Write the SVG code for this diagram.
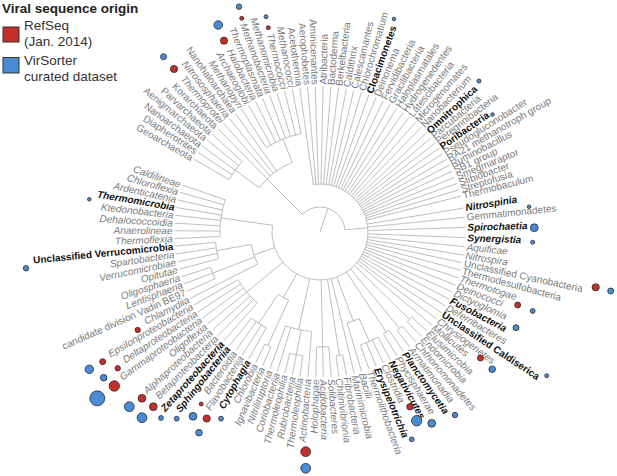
<svg xmlns="http://www.w3.org/2000/svg" width="617" height="476" viewBox="0 0 617 476">
<style>
.br path,.br circle{fill:none;stroke:#b3b3b3;stroke-width:0.8}
.lb text{font-family:"Liberation Sans",Arial,sans-serif;font-size:10px;fill:#7a7a7a;dominant-baseline:central;font-style:italic}
.lb text.u{font-style:normal}
.lb text.b{font-weight:bold;fill:#111}
.lb text.e{text-anchor:end}
.r{fill:#c42f2a;stroke:#2a2a2a;stroke-width:0.8}
.bl{fill:#4a8bd6;stroke:#2a2a2a;stroke-width:0.8}
.lg{font-family:"Liberation Sans",Arial,sans-serif;font-size:13.5px;fill:#333}
</style>
<rect width="617" height="476" fill="#fff"/>
<g id="legend">
<text x="2" y="12.5" class="lg" style="font-weight:bold;fill:#222">Viral sequence origin</text>
<rect x="3" y="27" width="16" height="15" fill="#c42f2a" stroke="#333" stroke-width="1"/>
<rect x="3" y="57.5" width="16" height="15.5" fill="#4a8bd6" stroke="#333" stroke-width="1"/>
<text x="24" y="30" class="lg">RefSeq</text>
<text x="24" y="46" class="lg">(Jan. 2014)</text>
<text x="24" y="65" class="lg">VirSorter</text>
<text x="24" y="81" class="lg">curated dataset</text>
</g>
<g id="connectors" class="br" transform="translate(320 232)">
<path d="M0 0H25" transform="rotate(289)"/>
<path d="M25 0H75" transform="rotate(225)"/>
<path d="M25 0H48" transform="rotate(355)"/>
<path d="M75 0H105" transform="rotate(216.1)"/>
<path d="M75 0H100" transform="rotate(248.3)"/>
<path d="M48 0H125" transform="rotate(44.3)"/>
<path d="M48 0H125" transform="rotate(50.45)"/>
<path d="M48 0H120" transform="rotate(56.55)"/>
<path d="M48 0H95" transform="rotate(69.5)"/>
<path d="M95 0H120" transform="rotate(65.7)"/>
<path d="M48 0H125" transform="rotate(81.05)"/>
<path d="M48 0H115" transform="rotate(88.65)"/>
<path d="M48 0H100" transform="rotate(102.4)"/>
<path d="M100 0H125" transform="rotate(100.9)"/>
<path d="M48 0H75" transform="rotate(119.2)"/>
<path d="M75 0H125" transform="rotate(114.7)"/>
<path d="M75 0H110" transform="rotate(123.9)"/>
<path d="M48 0H95" transform="rotate(140.7)"/>
<path d="M48 0H70" transform="rotate(161)"/>
<path d="M70 0H115" transform="rotate(159.05)"/>
<path d="M70 0H105" transform="rotate(169.75)"/>
<path d="M48 0H100" transform="rotate(188.1)"/>
<circle r="25" pathLength="360" stroke-dasharray="130 400" transform="rotate(225)"/>
<circle r="75" pathLength="360" stroke-dasharray="32.2 400" transform="rotate(216.1)"/>
<circle r="105" pathLength="360" stroke-dasharray="12.2 400" transform="rotate(210)"/>
<circle r="100" pathLength="360" stroke-dasharray="21.5 400" transform="rotate(237.5)"/>
<circle r="48" pathLength="360" stroke-dasharray="286.1 400" transform="rotate(262)"/>
<circle r="125" pathLength="360" stroke-dasharray="3 400" transform="rotate(42.8)"/>
<circle r="125" pathLength="360" stroke-dasharray="3.1 400" transform="rotate(48.9)"/>
<circle r="120" pathLength="360" stroke-dasharray="3.1 400" transform="rotate(55)"/>
<circle r="95" pathLength="360" stroke-dasharray="7.7 400" transform="rotate(65.7)"/>
<circle r="120" pathLength="360" stroke-dasharray="9.2 400" transform="rotate(61.1)"/>
<circle r="125" pathLength="360" stroke-dasharray="3.1 400" transform="rotate(79.5)"/>
<circle r="115" pathLength="360" stroke-dasharray="6.1 400" transform="rotate(85.6)"/>
<circle r="100" pathLength="360" stroke-dasharray="15.3 400" transform="rotate(94.8)"/>
<circle r="125" pathLength="360" stroke-dasharray="6.1 400" transform="rotate(97.9)"/>
<circle r="75" pathLength="360" stroke-dasharray="9.2 400" transform="rotate(114.7)"/>
<circle r="125" pathLength="360" stroke-dasharray="3 400" transform="rotate(113.2)"/>
<circle r="110" pathLength="360" stroke-dasharray="9.2 400" transform="rotate(119.3)"/>
<circle r="95" pathLength="360" stroke-dasharray="18.3 400" transform="rotate(131.5)"/>
<circle r="70" pathLength="360" stroke-dasharray="16.85 400" transform="rotate(152.9)"/>
<circle r="115" pathLength="360" stroke-dasharray="6.1 400" transform="rotate(156)"/>
<circle r="105" pathLength="360" stroke-dasharray="9.2 400" transform="rotate(165.2)"/>
<circle r="100" pathLength="360" stroke-dasharray="21.4 400" transform="rotate(177.4)"/>
<path d="M105 0H145.5" transform="rotate(210)"/>
<path d="M105 0H145.5" transform="rotate(213.1)"/>
<path d="M105 0H145.5" transform="rotate(216.1)"/>
<path d="M105 0H145.5" transform="rotate(219.2)"/>
<path d="M105 0H145.5" transform="rotate(222.2)"/>
<path d="M75 0H145.5" transform="rotate(225.3)"/>
<path d="M75 0H145.5" transform="rotate(228.4)"/>
<path d="M75 0H145.5" transform="rotate(231.4)"/>
<path d="M75 0H145.5" transform="rotate(234.5)"/>
<path d="M100 0H145.5" transform="rotate(237.5)"/>
<path d="M100 0H145.5" transform="rotate(240.6)"/>
<path d="M100 0H145.5" transform="rotate(243.7)"/>
<path d="M100 0H145.5" transform="rotate(246.7)"/>
<path d="M100 0H145.5" transform="rotate(249.8)"/>
<path d="M100 0H145.5" transform="rotate(252.8)"/>
<path d="M100 0H145.5" transform="rotate(255.9)"/>
<path d="M100 0H145.5" transform="rotate(259)"/>
<path d="M48 0H145.5" transform="rotate(262)"/>
<path d="M48 0H145.5" transform="rotate(265.1)"/>
<path d="M48 0H145.5" transform="rotate(268.1)"/>
<path d="M48 0H145.5" transform="rotate(271.2)"/>
<path d="M48 0H145.5" transform="rotate(274.3)"/>
<path d="M48 0H145.5" transform="rotate(277.3)"/>
<path d="M48 0H145.5" transform="rotate(280.4)"/>
<path d="M48 0H145.5" transform="rotate(283.4)"/>
<path d="M48 0H145.5" transform="rotate(286.5)"/>
<path d="M48 0H145.5" transform="rotate(289.6)"/>
<path d="M48 0H145.5" transform="rotate(292.6)"/>
<path d="M48 0H145.5" transform="rotate(295.7)"/>
<path d="M48 0H145.5" transform="rotate(298.7)"/>
<path d="M48 0H145.5" transform="rotate(301.8)"/>
<path d="M48 0H145.5" transform="rotate(304.9)"/>
<path d="M48 0H145.5" transform="rotate(307.9)"/>
<path d="M48 0H145.5" transform="rotate(311)"/>
<path d="M48 0H145.5" transform="rotate(314)"/>
<path d="M48 0H145.5" transform="rotate(317.1)"/>
<path d="M48 0H145.5" transform="rotate(319.7)"/>
<path d="M48 0H145.5" transform="rotate(322.3)"/>
<path d="M48 0H145.5" transform="rotate(324.9)"/>
<path d="M48 0H145.5" transform="rotate(327.5)"/>
<path d="M48 0H145.5" transform="rotate(330.1)"/>
<path d="M48 0H145.5" transform="rotate(332.7)"/>
<path d="M48 0H145.5" transform="rotate(335.3)"/>
<path d="M48 0H145.5" transform="rotate(337.9)"/>
<path d="M48 0H145.5" transform="rotate(340.5)"/>
<path d="M48 0H145.5" transform="rotate(343.1)"/>
<path d="M48 0H145.5" transform="rotate(345.7)"/>
<path d="M48 0H145.5" transform="rotate(350.5)"/>
<path d="M48 0H145.5" transform="rotate(354.2)"/>
<path d="M48 0H145.5" transform="rotate(358.2)"/>
<path d="M48 0H145.5" transform="rotate(2.2)"/>
<path d="M48 0H145.5" transform="rotate(5.8)"/>
<path d="M48 0H145.5" transform="rotate(9.1)"/>
<path d="M48 0H145.5" transform="rotate(12.2)"/>
<path d="M48 0H145.5" transform="rotate(15.2)"/>
<path d="M48 0H145.5" transform="rotate(18.3)"/>
<path d="M48 0H145.5" transform="rotate(21.4)"/>
<path d="M48 0H145.5" transform="rotate(24.4)"/>
<path d="M48 0H145.5" transform="rotate(27.5)"/>
<path d="M48 0H145.5" transform="rotate(30.5)"/>
<path d="M48 0H145.5" transform="rotate(33.6)"/>
<path d="M48 0H145.5" transform="rotate(36.7)"/>
<path d="M48 0H145.5" transform="rotate(39.7)"/>
<path d="M125 0H145.5" transform="rotate(42.8)"/>
<path d="M125 0H145.5" transform="rotate(45.8)"/>
<path d="M125 0H145.5" transform="rotate(48.9)"/>
<path d="M125 0H145.5" transform="rotate(52)"/>
<path d="M120 0H145.5" transform="rotate(55)"/>
<path d="M120 0H145.5" transform="rotate(58.1)"/>
<path d="M120 0H145.5" transform="rotate(61.1)"/>
<path d="M120 0H145.5" transform="rotate(64.2)"/>
<path d="M120 0H145.5" transform="rotate(67.3)"/>
<path d="M120 0H145.5" transform="rotate(70.3)"/>
<path d="M95 0H145.5" transform="rotate(73.4)"/>
<path d="M48 0H145.5" transform="rotate(76.4)"/>
<path d="M125 0H145.5" transform="rotate(79.5)"/>
<path d="M125 0H145.5" transform="rotate(82.6)"/>
<path d="M115 0H145.5" transform="rotate(85.6)"/>
<path d="M115 0H145.5" transform="rotate(88.7)"/>
<path d="M115 0H145.5" transform="rotate(91.7)"/>
<path d="M100 0H145.5" transform="rotate(94.8)"/>
<path d="M125 0H145.5" transform="rotate(97.9)"/>
<path d="M125 0H145.5" transform="rotate(100.9)"/>
<path d="M125 0H145.5" transform="rotate(104)"/>
<path d="M100 0H145.5" transform="rotate(107)"/>
<path d="M100 0H145.5" transform="rotate(110.1)"/>
<path d="M125 0H145.5" transform="rotate(113.2)"/>
<path d="M125 0H145.5" transform="rotate(116.2)"/>
<path d="M110 0H145.5" transform="rotate(119.3)"/>
<path d="M110 0H145.5" transform="rotate(122.3)"/>
<path d="M110 0H145.5" transform="rotate(125.4)"/>
<path d="M110 0H145.5" transform="rotate(128.5)"/>
<path d="M95 0H145.5" transform="rotate(131.5)"/>
<path d="M95 0H145.5" transform="rotate(134.6)"/>
<path d="M95 0H145.5" transform="rotate(137.6)"/>
<path d="M95 0H145.5" transform="rotate(140.7)"/>
<path d="M95 0H145.5" transform="rotate(143.8)"/>
<path d="M95 0H145.5" transform="rotate(146.8)"/>
<path d="M95 0H145.5" transform="rotate(149.9)"/>
<path d="M70 0H145.5" transform="rotate(152.9)"/>
<path d="M115 0H145.5" transform="rotate(156)"/>
<path d="M115 0H145.5" transform="rotate(159.1)"/>
<path d="M115 0H145.5" transform="rotate(162.1)"/>
<path d="M105 0H145.5" transform="rotate(165.2)"/>
<path d="M105 0H145.5" transform="rotate(168.2)"/>
<path d="M105 0H145.5" transform="rotate(171.3)"/>
<path d="M105 0H145.5" transform="rotate(174.4)"/>
<path d="M100 0H145.5" transform="rotate(177.4)"/>
<path d="M100 0H145.5" transform="rotate(180.5)"/>
<path d="M100 0H145.5" transform="rotate(183.5)"/>
<path d="M100 0H145.5" transform="rotate(186.6)"/>
<path d="M100 0H145.5" transform="rotate(189.7)"/>
<path d="M100 0H145.5" transform="rotate(192.7)"/>
<path d="M100 0H145.5" transform="rotate(195.8)"/>
<path d="M100 0H145.5" transform="rotate(198.8)"/>
</g>
<g class="lb" transform="translate(320 232)">
<g id="n1"><text class="e u" transform="rotate(210) translate(147.5) rotate(180)">Geoarchaeota</text></g>
<g id="n2"><text class="e u" transform="rotate(213.1) translate(147.5) rotate(180)">Diapherotrites</text></g>
<g id="n3"><text class="e u" transform="rotate(216.1) translate(147.5) rotate(180)">Nanoarchaeota</text></g>
<g id="n4"><text class="e u" transform="rotate(219.2) translate(147.5) rotate(180)">Aenigmarchaeota</text></g>
<g id="n5"><text class="e u" transform="rotate(222.2) translate(147.5) rotate(180)">Parvarchaeota</text></g>
<g id="n6"><text class="e u" transform="rotate(225.3) translate(147.5) rotate(180)">Korarchaeota</text></g>
<g id="n7"><text class="e" transform="rotate(228.4) translate(147.5) rotate(180)">Thermoprotei</text></g>
<g id="n8"><text class="e" transform="rotate(231.4) translate(147.5) rotate(180)">Nitrososphaeria</text></g>
<g id="n9"><text class="e u" transform="rotate(234.5) translate(147.5) rotate(180)">Nanohaloarchaea</text></g>
<g id="n10"><text class="e" transform="rotate(237.5) translate(147.5) rotate(180)">Methanopyri</text></g>
<g id="n11"><text class="e" transform="rotate(240.6) translate(147.5) rotate(180)">Archaeoglobi</text></g>
<g id="n12"><text class="e" transform="rotate(243.7) translate(147.5) rotate(180)">Halobacteria</text></g>
<g id="n13"><text class="e" transform="rotate(246.7) translate(147.5) rotate(180)">Thermoplasmata</text></g>
<g id="n14"><text class="e" transform="rotate(249.8) translate(147.5) rotate(180)">Methanobacteria</text></g>
<g id="n15"><text class="e" transform="rotate(252.8) translate(147.5) rotate(180)">Methanomicrobia</text></g>
<g id="n16"><text class="e" transform="rotate(255.9) translate(147.5) rotate(180)">Thermococci</text></g>
<g id="n17"><text class="e" transform="rotate(259) translate(147.5) rotate(180)">Methanococci</text></g>
<g id="n18"><text class="e u" transform="rotate(262) translate(147.5) rotate(180)">Acetothermia</text></g>
<g id="n19"><text class="e u" transform="rotate(265.1) translate(147.5) rotate(180)">Aerophobetes</text></g>
<g id="n20"><text class="e u" transform="rotate(268.1) translate(147.5) rotate(180)">Aminicenantes</text></g>
<g id="n21"><text class="u" transform="rotate(271.2) translate(147.5)">Atribacteria</text></g>
<g id="n22"><text class="u" transform="rotate(274.3) translate(147.5)">Bactoderma</text></g>
<g id="n23"><text class="u" transform="rotate(277.3) translate(147.5)">Berkelbacteria</text></g>
<g id="n24"><text class="u" transform="rotate(280.4) translate(147.5)">Caldithrix</text></g>
<g id="n25"><text class="u" transform="rotate(283.4) translate(147.5)">Calescamantes</text></g>
<g id="n26"><text class="u" transform="rotate(286.5) translate(147.5)">Chlorochromatium</text></g>
<g id="n27"><text class="u b" transform="rotate(289.6) translate(147.5)">Cloacimonetes</text></g>
<g id="n28"><text class="u" transform="rotate(292.6) translate(147.5)">Deinonema</text></g>
<g id="n29"><text class="u" transform="rotate(295.7) translate(147.5)">Fervidibacteria</text></g>
<g id="n30"><text class="u" transform="rotate(298.7) translate(147.5)">Gracilibacteria</text></g>
<g id="n31"><text class="u" transform="rotate(301.8) translate(147.5)">Haloplasmatales</text></g>
<g id="n32"><text class="u" transform="rotate(304.9) translate(147.5)">Hydrogenedentes</text></g>
<g id="n33"><text class="u" transform="rotate(307.9) translate(147.5)">Latescibacteria</text></g>
<g id="n34"><text class="u" transform="rotate(311) translate(147.5)">Microgenomates</text></g>
<g id="n35"><text class="u" transform="rotate(314) translate(147.5)">Nanobacterium</text></g>
<g id="n36"><text class="u b" transform="rotate(317.1) translate(147.5)">Omnitrophica</text></g>
<g id="n37"><text class="u" transform="rotate(319.7) translate(147.5)">Parcubacteria</text></g>
<g id="n38"><text class="u" transform="rotate(322.3) translate(147.5)">Peregrinibacteria</text></g>
<g id="n39"><text class="u b" transform="rotate(324.9) translate(147.5)">Poribacteria</text></g>
<g id="n40"><text class="u" transform="rotate(327.5) translate(147.5)">Pseudogluconobacter</text></g>
<g id="n41"><text class="u" transform="rotate(330.1) translate(147.5)">RA21 methanotroph group</text></g>
<g id="n42"><text class="u" transform="rotate(332.7) translate(147.5)">Ruminobacillus</text></g>
<g id="n43"><text class="u" transform="rotate(335.3) translate(147.5)">SB1 group</text></g>
<g id="n44"><text class="u" transform="rotate(337.9) translate(147.5)">Smegmaraptor</text></g>
<g id="n45"><text class="u" transform="rotate(340.5) translate(147.5)">Stibiobacter</text></g>
<g id="n46"><text class="u" transform="rotate(343.1) translate(147.5)">Streptofusia</text></g>
<g id="n47"><text class="u" transform="rotate(345.7) translate(147.5)">Thermobaculum</text></g>
<g id="n48"><text class="b" transform="rotate(350.5) translate(147.5)">Nitrospinia</text></g>
<g id="n49"><text class="u" transform="rotate(354.2) translate(147.5)">Gemmatimonadetes</text></g>
<g id="n50"><text class="b" transform="rotate(358.2) translate(147.5)">Spirochaetia</text></g>
<g id="n51"><text class="b" transform="rotate(2.2) translate(147.5)">Synergistia</text></g>
<g id="n52"><text transform="rotate(5.8) translate(147.5)">Aquificae</text></g>
<g id="n53"><text transform="rotate(9.1) translate(147.5)">Nitrospira</text></g>
<g id="n54"><text class="u" transform="rotate(12.2) translate(147.5)">Unclassified Cyanobacteria</text></g>
<g id="n55"><text class="u" transform="rotate(15.2) translate(147.5)">Thermodesulfobacteria</text></g>
<g id="n56"><text transform="rotate(18.3) translate(147.5)">Thermotogae</text></g>
<g id="n57"><text transform="rotate(21.4) translate(147.5)">Deinococci</text></g>
<g id="n58"><text transform="rotate(24.4) translate(147.5)">Dictyoglomia</text></g>
<g id="n59"><text class="b" transform="rotate(27.5) translate(147.5)">Fusobacteria</text></g>
<g id="n60"><text transform="rotate(30.5) translate(147.5)">Deferribacteres</text></g>
<g id="n61"><text class="u b" transform="rotate(33.6) translate(147.5)">Unclassified Caldiserica</text></g>
<g id="n62"><text transform="rotate(36.7) translate(147.5)">Chrysiogenetes</text></g>
<g id="n63"><text transform="rotate(39.7) translate(147.5)">Mollicutes</text></g>
<g id="n64"><text transform="rotate(42.8) translate(147.5)">Elusimicrobia</text></g>
<g id="n65"><text transform="rotate(45.8) translate(147.5)">Endomicrobia</text></g>
<g id="n66"><text transform="rotate(48.9) translate(147.5)">Chthonomonadetes</text></g>
<g id="n67"><text transform="rotate(52) translate(147.5)">Armatimonadia</text></g>
<g id="n68"><text class="b" transform="rotate(55) translate(147.5)">Planctomycetia</text></g>
<g id="n69"><text transform="rotate(58.1) translate(147.5)">Phycisphaerae</text></g>
<g id="n70"><text class="b" transform="rotate(61.1) translate(147.5)">Negativicutes</text></g>
<g id="n71"><text transform="rotate(64.2) translate(147.5)">Clostridia</text></g>
<g id="n72"><text class="b" transform="rotate(67.3) translate(147.5)">Erysipelotrichia</text></g>
<g id="n73"><text transform="rotate(70.3) translate(147.5)">Thermolithobacteria</text></g>
<g id="n74"><text transform="rotate(73.4) translate(147.5)">Bacilli</text></g>
<g id="n75"><text transform="rotate(76.4) translate(147.5)">Marinimicrobia</text></g>
<g id="n76"><text transform="rotate(79.5) translate(147.5)">Fibrobacteria</text></g>
<g id="n77"><text transform="rotate(82.6) translate(147.5)">Chitinivibrionia</text></g>
<g id="n78"><text transform="rotate(85.6) translate(147.5)">Solibacteres</text></g>
<g id="n79"><text transform="rotate(88.7) translate(147.5)">Acidobacteria</text></g>
<g id="n80"><text class="e" transform="rotate(91.7) translate(147.5) rotate(180)">Holophagae</text></g>
<g id="n81"><text class="e" transform="rotate(94.8) translate(147.5) rotate(180)">Actinobacteria</text></g>
<g id="n82"><text class="e" transform="rotate(97.9) translate(147.5) rotate(180)">Thermoleophilia</text></g>
<g id="n83"><text class="e" transform="rotate(100.9) translate(147.5) rotate(180)">Rubrobacteria</text></g>
<g id="n84"><text class="e" transform="rotate(104) translate(147.5) rotate(180)">Thermoleophilia</text></g>
<g id="n85"><text class="e" transform="rotate(107) translate(147.5) rotate(180)">Coriobacteriia</text></g>
<g id="n86"><text class="e" transform="rotate(110.1) translate(147.5) rotate(180)">Nitriliruptoria</text></g>
<g id="n87"><text class="e" transform="rotate(113.2) translate(147.5) rotate(180)">Ignavibacteria</text></g>
<g id="n88"><text class="e" transform="rotate(116.2) translate(147.5) rotate(180)">Chlorobia</text></g>
<g id="n89"><text class="e b" transform="rotate(119.3) translate(147.5) rotate(180)">Cytophagia</text></g>
<g id="n90"><text class="e" transform="rotate(122.3) translate(147.5) rotate(180)">Flavobacteriia</text></g>
<g id="n91"><text class="e" transform="rotate(125.4) translate(147.5) rotate(180)">Bacteroidia</text></g>
<g id="n92"><text class="e b" transform="rotate(128.5) translate(147.5) rotate(180)">Sphingobacteriia</text></g>
<g id="n93"><text class="e b" transform="rotate(131.5) translate(147.5) rotate(180)">Zetaproteobacteria</text></g>
<g id="n94"><text class="e" transform="rotate(134.6) translate(147.5) rotate(180)">Betaproteobacteria</text></g>
<g id="n95"><text class="e" transform="rotate(137.6) translate(147.5) rotate(180)">Alphaproteobacteria</text></g>
<g id="n96"><text class="e" transform="rotate(140.7) translate(147.5) rotate(180)">Oligoflexia</text></g>
<g id="n97"><text class="e" transform="rotate(143.8) translate(147.5) rotate(180)">Gammaproteobacteria</text></g>
<g id="n98"><text class="e" transform="rotate(146.8) translate(147.5) rotate(180)">Deltaproteobacteria</text></g>
<g id="n99"><text class="e" transform="rotate(149.9) translate(147.5) rotate(180)">Epsilonproteobacteria</text></g>
<g id="n100"><text class="e" transform="rotate(152.9) translate(147.5) rotate(180)">Chlamydiia</text></g>
<g id="n101"><text class="e u" transform="rotate(156) translate(147.5) rotate(180)">candidate division Vadin BE97</text></g>
<g id="n102"><text class="e" transform="rotate(159.1) translate(147.5) rotate(180)">Lentisphaeria</text></g>
<g id="n103"><text class="e" transform="rotate(162.1) translate(147.5) rotate(180)">Oligosphaeria</text></g>
<g id="n104"><text class="e" transform="rotate(165.2) translate(147.5) rotate(180)">Opitutae</text></g>
<g id="n105"><text class="e" transform="rotate(168.2) translate(147.5) rotate(180)">Verrucomicrobiae</text></g>
<g id="n106"><text class="e" transform="rotate(171.3) translate(147.5) rotate(180)">Spartobacteria</text></g>
<g id="n107"><text class="e u b" transform="rotate(174.4) translate(147.5) rotate(180)">Unclassified Verrucomicrobia</text></g>
<g id="n108"><text class="e" transform="rotate(177.4) translate(147.5) rotate(180)">Thermoflexia</text></g>
<g id="n109"><text class="e" transform="rotate(180.5) translate(147.5) rotate(180)">Anaerolineae</text></g>
<g id="n110"><text class="e" transform="rotate(183.5) translate(147.5) rotate(180)">Dehalococcoidia</text></g>
<g id="n111"><text class="e" transform="rotate(186.6) translate(147.5) rotate(180)">Ktedonobacteria</text></g>
<g id="n112"><text class="e b" transform="rotate(189.7) translate(147.5) rotate(180)">Thermomicrobia</text></g>
<g id="n113"><text class="e" transform="rotate(192.7) translate(147.5) rotate(180)">Ardenticatenia</text></g>
<g id="n114"><text class="e" transform="rotate(195.8) translate(147.5) rotate(180)">Chloroflexia</text></g>
<g id="n115"><text class="e" transform="rotate(198.8) translate(147.5) rotate(180)">Caldilineae</text></g>
</g>
<g id="markers">
<circle class="r" cx="174" cy="69" r="3.6"/>
<circle class="r" cx="224" cy="40.7" r="3.6"/>
<circle class="r" cx="241.7" cy="18.3" r="2"/>
<circle class="r" cx="268.3" cy="27.7" r="2"/>
<circle class="r" cx="595.7" cy="287.3" r="3.6"/>
<circle class="r" cx="517.7" cy="305" r="3"/>
<circle class="r" cx="480.5" cy="358" r="3"/>
<circle class="r" cx="137.7" cy="330" r="2.7"/>
<circle class="r" cx="102.7" cy="361.7" r="3"/>
<circle class="r" cx="117.7" cy="368.3" r="2.7"/>
<circle class="r" cx="114.3" cy="386" r="5.2"/>
<circle class="r" cx="142" cy="398.3" r="3.9"/>
<circle class="r" cx="153.3" cy="406.7" r="3.9"/>
<circle class="r" cx="201.2" cy="404" r="2"/>
<circle class="r" cx="206.7" cy="418.5" r="3.6"/>
<circle class="r" cx="305.7" cy="451.7" r="4.9"/>
<circle class="r" cx="410" cy="406.7" r="3.3"/>
<circle class="bl" cx="163.5" cy="56.7" r="3"/>
<circle class="bl" cx="218.3" cy="25" r="4.3"/>
<circle class="bl" cx="239" cy="6.7" r="2.7"/>
<circle class="bl" cx="266" cy="16.7" r="2"/>
<circle class="bl" cx="394" cy="19" r="1.8"/>
<circle class="bl" cx="479" cy="81" r="2"/>
<circle class="bl" cx="492.5" cy="114.5" r="1.8"/>
<circle class="bl" cx="529" cy="206.7" r="1.8"/>
<circle class="bl" cx="534.3" cy="227.7" r="3.9"/>
<circle class="bl" cx="532.7" cy="242.2" r="2"/>
<circle class="bl" cx="610.7" cy="291" r="3"/>
<circle class="bl" cx="532.7" cy="311" r="2.4"/>
<circle class="bl" cx="516" cy="327.7" r="3"/>
<circle class="bl" cx="492.2" cy="369.2" r="3.3"/>
<circle class="bl" cx="546.7" cy="375.7" r="2"/>
<circle class="bl" cx="455" cy="415" r="2.7"/>
<circle class="bl" cx="416.7" cy="420.7" r="5.2"/>
<circle class="bl" cx="431.7" cy="423.3" r="3.9"/>
<circle class="bl" cx="411.7" cy="439.3" r="2.4"/>
<circle class="bl" cx="305.7" cy="468.3" r="4.9"/>
<circle class="bl" cx="221" cy="418.7" r="2.4"/>
<circle class="bl" cx="199" cy="432.7" r="3.3"/>
<circle class="bl" cx="193" cy="416.3" r="3.9"/>
<circle class="bl" cx="176.7" cy="418.7" r="2.4"/>
<circle class="bl" cx="161" cy="418" r="2.4"/>
<circle class="bl" cx="142" cy="417.7" r="4.9"/>
<circle class="bl" cx="129.3" cy="406.7" r="4.9"/>
<circle class="bl" cx="97.3" cy="398.3" r="7.5"/>
<circle class="bl" cx="103.7" cy="377.7" r="3.3"/>
<circle class="bl" cx="89.3" cy="369.3" r="4.3"/>
<circle class="bl" cx="26" cy="268.3" r="2.7"/>
<circle class="bl" cx="89.3" cy="199.3" r="1.8"/>
</g>
</svg>
